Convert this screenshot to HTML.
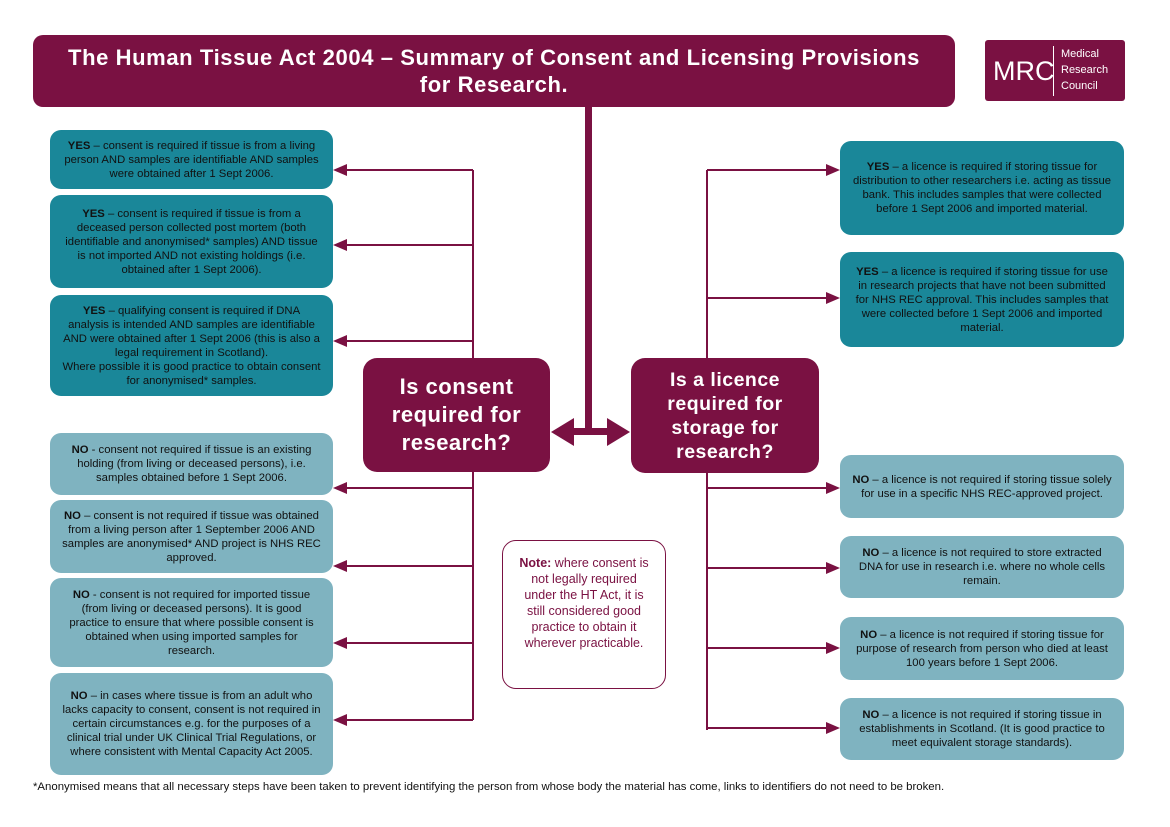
<!DOCTYPE html>
<html><head><meta charset="utf-8"><style>
body{margin:0;width:1170px;height:827px;background:#fff;position:relative;font-family:"Liberation Sans",sans-serif;overflow:hidden}
.a{position:absolute;box-sizing:border-box}
.t{background:#7a1142;color:#fff;border-radius:10px}
.b{display:flex;align-items:center;justify-content:center;text-align:center;border-radius:11px;font-size:11.3px;line-height:14px;color:#111;padding:4px 12px}
.d{background:#1a8799}
.l{background:#7fb3c0}
.q{display:flex;align-items:center;justify-content:center;text-align:center;font-weight:bold;font-size:21px;line-height:25px;border-radius:14px;letter-spacing:0.5px}
</style></head><body>
<div class="a t" style="left:33px;top:35px;width:922px;height:72px;font-weight:bold;font-size:22px;line-height:27px;padding:9px 20px;text-align:center;letter-spacing:0.6px">The Human Tissue Act 2004 – Summary of Consent and Licensing Provisions<br>for Research.</div>
<div class="a" style="left:985px;top:40px;width:140px;height:61px;background:#7a1142;border-radius:3px;color:#fff">
<div class="a" style="left:8px;top:16px;font-size:27px">MRC</div>
<div class="a" style="left:68px;top:6px;width:1px;height:50px;background:#fff"></div>
<div class="a" style="left:76px;top:6px;font-size:11px;line-height:16px">Medical<br>Research<br>Council</div></div>
<svg class="a" style="left:0;top:0" width="1170" height="827">
<g stroke="#7a1142" fill="none" stroke-width="2">
<path d="M473 170V358M473 472V720M340 170H473M340 245H473M340 341H473M340 488H473M340 566H473M340 643H473M340 720H473"/>
<path d="M707 170V358M707 473V730M707 170H830M707 298H830M707 488H830M707 568H830M707 648H830M707 728H830"/>
</g>
<rect x="585" y="107" width="7" height="325" fill="#7a1142"/>
<rect x="568" y="428" width="45" height="7" fill="#7a1142"/>
<g fill="#7a1142">
<path d="M551 432L574 418V446Z"/><path d="M630 432L607 418V446Z"/>
<path d="M333 170L347 164V176Z"/><path d="M333 245L347 239V251Z"/><path d="M333 341L347 335V347Z"/>
<path d="M333 488L347 482V494Z"/><path d="M333 566L347 560V572Z"/><path d="M333 643L347 637V649Z"/><path d="M333 720L347 714V726Z"/>
<path d="M840 170L826 164V176Z"/><path d="M840 298L826 292V304Z"/><path d="M840 488L826 482V494Z"/><path d="M840 568L826 562V574Z"/><path d="M840 648L826 642V654Z"/><path d="M840 728L826 722V734Z"/>
</g></svg>
<div class="a t q" style="left:363px;top:358px;width:187px;height:114px;font-size:22px;line-height:28px">Is consent<br>required for<br>research?</div>
<div class="a t q" style="left:631px;top:358px;width:188px;height:115px;font-size:19.5px;line-height:24px">Is a licence<br>required for<br>storage for<br>research?</div>
<div class="a b d" style="left:50px;top:130px;width:283px;height:59px"><div><b>YES</b> – consent is required if tissue is from a living person AND samples are identifiable AND samples were obtained after 1 Sept 2006.</div></div>
<div class="a b d" style="left:50px;top:195px;width:283px;height:93px"><div><b>YES</b> – consent is required if tissue is from a deceased person collected post mortem (both identifiable and anonymised* samples) AND tissue is not imported AND not existing holdings (i.e. obtained after 1 Sept 2006).</div></div>
<div class="a b d" style="left:50px;top:295px;width:283px;height:101px"><div><b>YES</b> – qualifying consent is required if DNA analysis is intended AND samples are identifiable AND were obtained after 1 Sept 2006 (this is also a legal requirement in Scotland).<br>Where possible it is good practice to obtain consent for anonymised* samples.</div></div>
<div class="a b l" style="left:50px;top:433px;width:283px;height:62px"><div><b>NO</b> - consent not required if tissue is an existing holding (from living or deceased persons), i.e. samples obtained before 1 Sept 2006.</div></div>
<div class="a b l" style="left:50px;top:500px;width:283px;height:73px"><div><b>NO</b> – consent is not required if tissue was obtained from a living person after 1 September 2006 AND samples are anonymised* AND project is NHS REC approved.</div></div>
<div class="a b l" style="left:50px;top:578px;width:283px;height:89px"><div><b>NO</b> - consent is not required for imported tissue (from living or deceased persons). It is good practice to ensure that where possible consent is obtained when using imported samples for research.</div></div>
<div class="a b l" style="left:50px;top:673px;width:283px;height:102px"><div><b>NO</b> – in cases where tissue is from an adult who lacks capacity to consent, consent is not required in certain circumstances e.g. for the purposes of a clinical trial under UK Clinical Trial Regulations, or where consistent with Mental Capacity Act 2005.</div></div>
<div class="a b d" style="left:840px;top:141px;width:284px;height:94px"><div><b>YES</b> – a licence is required if storing tissue for distribution to other researchers i.e. acting as tissue bank. This includes samples that were collected before 1 Sept 2006 and imported material.</div></div>
<div class="a b d" style="left:840px;top:252px;width:284px;height:95px"><div><b>YES</b> – a licence is required if storing tissue for use in research projects that have not been submitted for NHS REC approval. This includes samples that were collected before 1 Sept 2006 and imported material.</div></div>
<div class="a b l" style="left:840px;top:455px;width:284px;height:63px"><div><b>NO</b> – a licence is not required if storing tissue solely for use in a specific NHS REC-approved project.</div></div>
<div class="a b l" style="left:840px;top:536px;width:284px;height:62px"><div><b>NO</b> – a licence is not required to store extracted DNA for use in research i.e. where no whole cells remain.</div></div>
<div class="a b l" style="left:840px;top:617px;width:284px;height:63px"><div><b>NO</b> – a licence is not required if storing tissue for purpose of research from person who died at least 100 years before 1 Sept 2006.</div></div>
<div class="a b l" style="left:840px;top:698px;width:284px;height:62px"><div><b>NO</b> – a licence is not required if storing tissue in establishments in Scotland. (It is good practice to meet equivalent storage standards).</div></div>
<div class="a" style="left:502px;top:540px;width:164px;height:149px;border:1.5px solid #7a1142;border-radius:14px;color:#7a1142;font-size:12.5px;line-height:16px;text-align:center;padding:14px 16px"><b>Note:</b> where consent is not legally required under the HT Act, it is still considered good practice to obtain it wherever practicable.</div>
<div class="a" style="left:33px;top:781px;font-size:11.4px;color:#111">*Anonymised means that all necessary steps have been taken to prevent identifying the person from whose body the material has come, links to identifiers do not need to be broken.</div>
</body></html>
